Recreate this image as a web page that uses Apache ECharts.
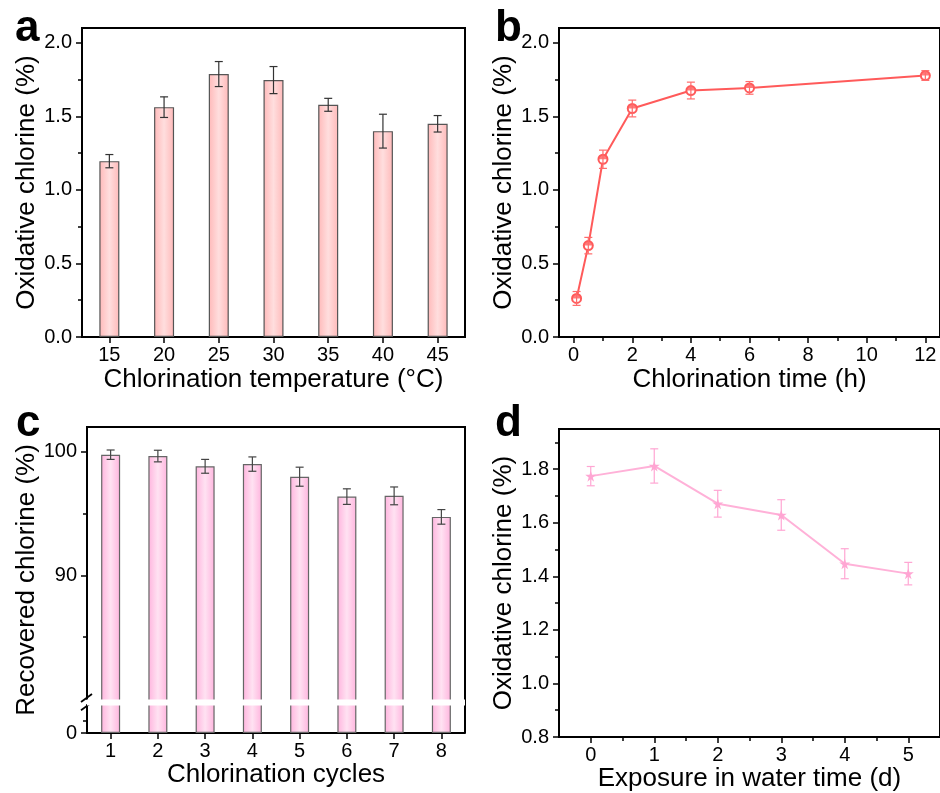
<!DOCTYPE html>
<html>
<head>
<meta charset="utf-8">
<script src="https://cdn.jsdelivr.net/npm/echarts@6/dist/echarts.min.js"></script>
<style>
html, body { margin: 0; padding: 0; background: #fff; }
#chart { width: 940px; height: 793px; }
</style>
</head>
<body>
<div id="chart"></div>
<script>
// panel a: chlorination temperature
var tempLabels = ['15', '20', '25', '30', '35', '40', '45'];
var tempValues = [1.195, 1.562, 1.787, 1.746, 1.578, 1.399, 1.449];
var tempErrors = [0.045, 0.07, 0.085, 0.092, 0.044, 0.115, 0.056];

// panel b: chlorination time
var timeHours = [0.1, 0.5, 1, 2, 4, 6, 12];
var timeValues = [0.262, 0.621, 1.208, 1.553, 1.675, 1.693, 1.777];
var timeErrors = [0.047, 0.056, 0.062, 0.057, 0.057, 0.043, 0.033];

// panel c: chlorination cycles
var cycleLabels = ['1', '2', '3', '4', '5', '6', '7', '8'];
var cycleValues = [99.76, 99.65, 98.82, 99.0, 97.98, 96.37, 96.43, 94.73];
var cycleErrors = [0.38, 0.47, 0.56, 0.58, 0.77, 0.63, 0.72, 0.59];

// panel d: exposure in water
var exposureDays = [0, 1, 2, 3, 4, 5];
var exposureValues = [1.774, 1.812, 1.671, 1.629, 1.447, 1.41];
var exposureErrors = [0.036, 0.064, 0.05, 0.057, 0.056, 0.042];

// tick positions
var ticksA = [0, 0.5, 1, 1.5, 2];
var minorA = [0.25, 0.75, 1.25, 1.75];
var ticksBx = [0, 2, 4, 6, 8, 10, 12];
var minorBx = [1, 3, 5, 7, 9, 11];
var ticksC = [0, 90, 100];
var minorC = [1, 85, 95];
var ticksDy = [0.8, 1.0, 1.2, 1.4, 1.6, 1.8];
var minorDy = [0.9, 1.1, 1.3, 1.5, 1.7, 1.9];
var ticksDx = [0, 1, 2, 3, 4, 5];
var minorDx = [0.5, 1.5, 2.5, 3.5, 4.5];

var font = 'Liberation Sans, Arial, sans-serif';
var black = '#000';

var chart = echarts.init(document.getElementById('chart'));

var barGradA = new echarts.graphic.LinearGradient(0, 0, 1, 0, [
    {offset: 0, color: '#ffb9b9'}, {offset: 0.5, color: '#ffdede'}, {offset: 1, color: '#ffb9b9'}
]);
var barGradC = new echarts.graphic.LinearGradient(0, 0, 1, 0, [
    {offset: 0, color: '#ffb4de'}, {offset: 0.5, color: '#ffe2f2'}, {offset: 1, color: '#ffb4de'}
]);

var fmt1 = function(v) { return Number(v).toFixed(1); };

var errorSeries = function(xi, yi, xs, ys, es, color, cap) {
    var data = [];
    for (var i = 0; i < ys.length; i++) data.push([xs[i], ys[i] - es[i], ys[i] + es[i]]);
    return {
        type: 'custom', xAxisIndex: xi, yAxisIndex: yi, z: 5, silent: true,
        data: data,
        renderItem: function(params, api) {
            var lo = api.coord([api.value(0), api.value(1)]);
            var hi = api.coord([api.value(0), api.value(2)]);
            var st = {stroke: color, lineWidth: 1.2};
            return {type: 'group', children: [
                {type: 'line', shape: {x1: lo[0], y1: lo[1], x2: hi[0], y2: hi[1]}, style: st},
                {type: 'line', shape: {x1: lo[0] - cap, y1: lo[1], x2: lo[0] + cap, y2: lo[1]}, style: st},
                {type: 'line', shape: {x1: hi[0] - cap, y1: hi[1], x2: hi[0] + cap, y2: hi[1]}, style: st}
            ]};
        }
    };
};

// helper axes that only draw the short minor ticks
var minorY = function(grid, min, max, vals, extra) {
    var ax = {
        gridIndex: grid, type: 'value', min: min, max: max, position: 'left',
        axisLine: {show: false, onZero: false}, axisLabel: {show: false}, splitLine: {show: false},
        axisTick: {show: true, length: 4, customValues: vals, lineStyle: {color: black, width: 1.5}}
    };
    for (var k in extra) ax[k] = extra[k];
    return ax;
};
var minorX = function(grid, min, max, vals) {
    return {
        gridIndex: grid, type: 'value', min: min, max: max, position: 'bottom',
        axisLine: {show: false, onZero: false}, axisLabel: {show: false}, splitLine: {show: false},
        axisTick: {show: true, length: 4, customValues: vals, lineStyle: {color: black, width: 1.5}}
    };
};

var nameStyle = {color: black, fontSize: 26, fontFamily: font};
var lineAx = {show: true, onZero: false, lineStyle: {color: black, width: 2}};
var tickAx = function(vals) {
    var t = {show: true, length: 6, lineStyle: {color: black, width: 1.5}};
    if (vals) t.customValues = vals;
    return t;
};
var catTick = {show: true, alignWithLabel: true, length: 6, lineStyle: {color: black, width: 1.5}};

var yBreaks = [{start: 2.25, end: 80, gap: 0.5}];
var gridC = {left: 87, top: 427, width: 378, height: 306};

var option = {
    animation: false,
    backgroundColor: '#fff',
    grid: [
        {left: 82, top: 28, width: 383, height: 309, show: true, borderColor: black, borderWidth: 2},
        {left: 559, top: 28, width: 385, height: 309, show: true, borderColor: black, borderWidth: 2},
        gridC,
        {left: 559, top: 429, width: 383, height: 308, show: true, borderColor: black, borderWidth: 2}
    ],
    xAxis: [
        {
            gridIndex: 0, type: 'category', data: tempLabels,
            name: 'Chlorination temperature (°C)', nameLocation: 'middle', nameGap: 30, nameTextStyle: nameStyle,
            axisLine: lineAx, axisTick: catTick,
            axisLabel: {color: black, fontSize: 20, fontFamily: font, margin: 8}
        },
        {
            gridIndex: 1, type: 'value', min: -0.5, max: 12.5,
            name: 'Chlorination time (h)', nameLocation: 'middle', nameGap: 30, nameTextStyle: nameStyle,
            axisLine: lineAx, axisTick: tickAx(ticksBx), splitLine: {show: false},
            axisLabel: {color: black, fontSize: 20, fontFamily: font, margin: 8, customValues: ticksBx}
        },
        {
            gridIndex: 2, type: 'category', data: cycleLabels,
            name: 'Chlorination cycles', nameLocation: 'middle', nameGap: 28, nameTextStyle: nameStyle,
            axisLine: lineAx, axisTick: catTick,
            axisLabel: {color: black, fontSize: 20, fontFamily: font, margin: 8}
        },
        {
            gridIndex: 3, type: 'value', min: -0.5, max: 5.5,
            name: 'Exposure in water time (d)', nameLocation: 'middle', nameGap: 28, nameTextStyle: nameStyle,
            axisLine: lineAx, axisTick: tickAx(ticksDx), splitLine: {show: false},
            axisLabel: {color: black, fontSize: 20, fontFamily: font, margin: 8, customValues: ticksDx}
        },
        minorX(1, -0.5, 12.5, minorBx),
        minorX(3, -0.5, 5.5, minorDx)
    ],
    yAxis: [
        {
            gridIndex: 0, type: 'value', min: 0, max: 2.1,
            name: 'Oxidative chlorine (%)', nameLocation: 'middle', nameGap: 40, nameTextStyle: nameStyle,
            axisLine: lineAx, axisTick: tickAx(ticksA), splitLine: {show: false},
            axisLabel: {color: black, fontSize: 20, fontFamily: font, margin: 10, customValues: ticksA, formatter: fmt1}
        },
        {
            gridIndex: 1, type: 'value', min: 0, max: 2.1,
            name: 'Oxidative chlorine (%)', nameLocation: 'middle', nameGap: 40, nameTextStyle: nameStyle,
            axisLine: lineAx, axisTick: tickAx(ticksA), splitLine: {show: false},
            axisLabel: {color: black, fontSize: 20, fontFamily: font, margin: 10, customValues: ticksA, formatter: fmt1}
        },
        {
            gridIndex: 2, type: 'value', min: 0, max: 102,
            breaks: yBreaks,
            breakArea: {show: true, zigzagAmplitude: 0, itemStyle: {color: '#fff', borderColor: '#fff', borderWidth: 0, opacity: 1}},
            name: 'Recovered chlorine (%)', nameLocation: 'middle', nameGap: 44, nameTextStyle: nameStyle,
            axisLine: lineAx, axisTick: tickAx(ticksC), splitLine: {show: false},
            axisLabel: {color: black, fontSize: 20, fontFamily: font, margin: 10, customValues: ticksC}
        },
        {
            gridIndex: 3, type: 'value', min: 0.8, max: 1.95,
            name: 'Oxidative chlorine (%)', nameLocation: 'middle', nameGap: 40, nameTextStyle: nameStyle,
            axisLine: lineAx, axisTick: tickAx(ticksDy), splitLine: {show: false},
            axisLabel: {color: black, fontSize: 20, fontFamily: font, margin: 10, customValues: ticksDy, formatter: fmt1}
        },
        minorY(0, 0, 2.1, minorA),
        minorY(1, 0, 2.1, minorA),
        minorY(2, 0, 102, minorC, {breaks: yBreaks, breakArea: {show: false}}),
        minorY(3, 0.8, 1.95, minorDy)
    ],
    series: [
        {
            type: 'bar', xAxisIndex: 0, yAxisIndex: 0, data: tempValues, barWidth: 20,
            itemStyle: {color: barGradA, borderColor: '#555', borderWidth: 1.2}
        },
        errorSeries(0, 0, [0, 1, 2, 3, 4, 5, 6], tempValues, tempErrors, '#333', 4),
        {
            type: 'line', xAxisIndex: 1, yAxisIndex: 1,
            data: timeHours.map(function(h, i) { return [h, timeValues[i]]; }),
            symbol: 'emptyCircle', symbolSize: 9, lineStyle: {color: '#ff5a5a', width: 2},
            itemStyle: {color: '#ff5a5a', borderWidth: 1.2}
        },
        {
            type: 'scatter', xAxisIndex: 1, yAxisIndex: 1, z: 4,
            data: timeHours.map(function(h, i) { return [h, timeValues[i]]; }),
            symbol: 'path://M0,5 A5,5 0 0 1 10,5 Z', symbolSize: [9, 4.5], symbolOffset: [0, -2.25],
            itemStyle: {color: '#ff5a5a'}
        },
        errorSeries(1, 1, timeHours, timeValues, timeErrors, '#ff6b6b', 4),
        {
            type: 'bar', xAxisIndex: 2, yAxisIndex: 2, data: cycleValues, barWidth: 19,
            itemStyle: {color: barGradC, borderColor: '#666', borderWidth: 1.2}
        },
        errorSeries(2, 2, [0, 1, 2, 3, 4, 5, 6, 7], cycleValues, cycleErrors, '#444', 4),
        {
            type: 'line', xAxisIndex: 3, yAxisIndex: 3,
            data: exposureDays.map(function(d, i) { return [d, exposureValues[i]]; }),
            symbol: 'path://M50,0 L61,35 L98,35 L68,57 L79,91 L50,70 L21,91 L32,57 L2,35 L39,35 Z', symbolSize: 11,
            lineStyle: {color: '#ffb1d8', width: 2}, itemStyle: {color: '#ffa6d3'}
        },
        errorSeries(3, 3, exposureDays, exposureValues, exposureErrors, '#ffa6d3', 4)
    ],
    graphic: [
        {id: 'la', type: 'text', left: 15, top: 7, style: {text: 'a', font: 'bold 44px ' + font, fill: black}},
        {id: 'lb', type: 'text', left: 495, top: 7, style: {text: 'b', font: 'bold 44px ' + font, fill: black}},
        {id: 'lc', type: 'text', left: 16, top: 402, style: {text: 'c', font: 'bold 44px ' + font, fill: black}},
        {id: 'ld', type: 'text', left: 495, top: 402, style: {text: 'd', font: 'bold 44px ' + font, fill: black}}
    ]
};

chart.setOption(option);

// top and right edges of the frame of panel c, and the "//" marks on its broken axis
var xL = gridC.left, xR = gridC.left + gridC.width;
var yT = gridC.top, yB = gridC.top + gridC.height;
var extraGraphic = [
    {id: 'frameTop', type: 'line', z: 100, silent: true, shape: {x1: xL - 1, y1: yT, x2: xR + 1, y2: yT},
        style: {stroke: black, lineWidth: 2}},
    {id: 'frameRight', type: 'line', z: 100, silent: true, shape: {x1: xR, y1: yT, x2: xR, y2: yB},
        style: {stroke: black, lineWidth: 2}}
];
var yLo = chart.convertToPixel({yAxisIndex: 2}, yBreaks[0].start);
var yHi = chart.convertToPixel({yAxisIndex: 2}, yBreaks[0].end);
if (isFinite(yLo) && isFinite(yHi)) {
    var slash = {stroke: black, lineWidth: 1.8};
    extraGraphic.push(
        {id: 'slash1', type: 'line', z: 100, silent: true, shape: {x1: xL - 6, y1: yLo + 5, x2: xL + 5, y2: yLo - 3}, style: slash},
        {id: 'slash2', type: 'line', z: 100, silent: true, shape: {x1: xL - 6, y1: yHi + 3, x2: xL + 5, y2: yHi - 5}, style: slash}
    );
}
chart.setOption({graphic: extraGraphic});
</script>
</body>
</html>
